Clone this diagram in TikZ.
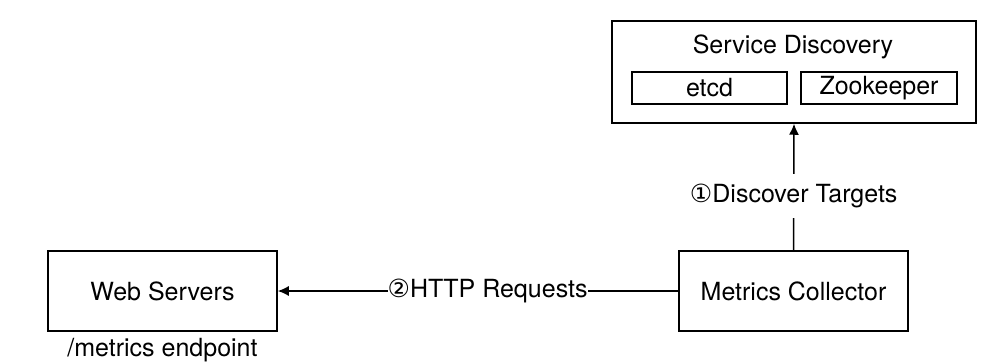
\documentclass[tikz,border=0pt]{standalone}
\usepackage{fontspec}
\setmainfont{TeX Gyre Heros}
\newfontfamily\circfont{DejaVu Sans}
\usetikzlibrary{arrows.meta,positioning}

\begin{document}
\begin{tikzpicture}
  [
    x = 0.5pt, y = -0.5pt,
    component/.style = {shape=rectangle, draw, line width=0.75pt,
                        align=center, inner sep=0pt},
    label/.style     = {fill=white, inner xsep=0pt, inner ysep=5pt},
    request/.style   = {draw, line width=0.75pt,
                        -{Latex[length=5.5pt,width=5pt]}},
    every node/.style = {font=\fontsize{12.5pt}{14pt}\selectfont}
    ]
    \useasboundingbox (0,0) rectangle (984,363);

    % service discovery with its two backends
    \node [component, minimum width=182pt, minimum height=51pt]
      (discovery) at (794,72) {};
    \node (discoveryname) at (793,47) {Service Discovery};
    \node [component, minimum width=77.5pt, minimum height=16pt]
      (etcd) at (709.5,88) {etcd};
    \node [component, minimum width=78pt, minimum height=16pt]
      (zookeeper) at (879,88) {Zookeeper};

    \node [component, minimum width=114.5pt, minimum height=40pt]
      (collector) at (793.5,291) {Metrics Collector};
    \node [component, minimum width=114.5pt, minimum height=40pt]
      (webservers) at (162.5,291) {Web Servers};
    \node [below=2pt of webservers, inner sep=1pt]
      (endpoint) {/metrics endpoint};

    \draw [request] (collector.north) --
      node [label, pos=0.43] {{\circfont ①}Discover Targets}
      (discovery.south);
    \draw [request] (collector.west) --
      node [label, pos=0.476] {{\circfont ②}HTTP Requests}
      (webservers.east);
\end{tikzpicture}
\end{document}
